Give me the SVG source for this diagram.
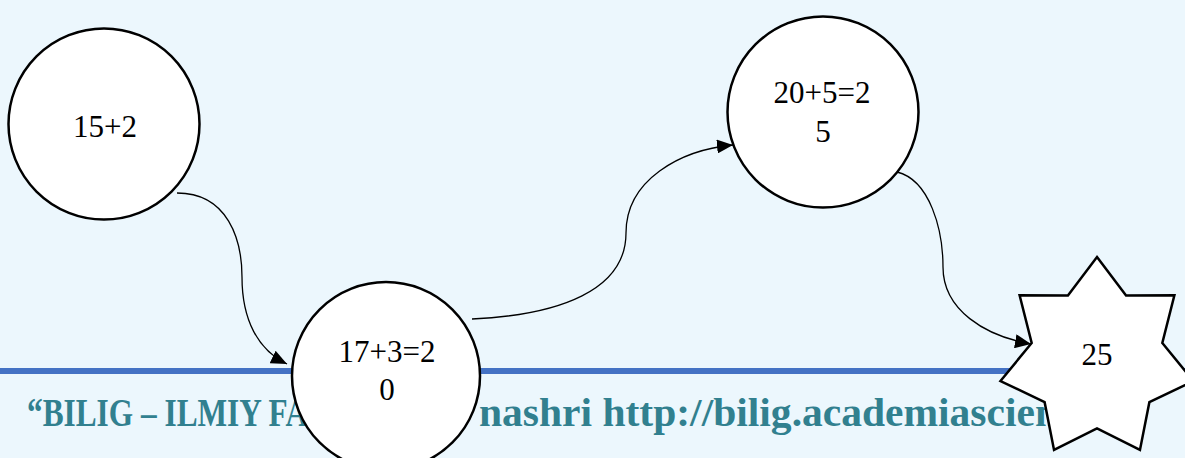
<svg xmlns="http://www.w3.org/2000/svg" width="1185" height="458" viewBox="0 0 1185 458">
<style>
.node{fill:#ffffff;stroke:#000000;stroke-width:2.5}
.lbl{font-family:"Liberation Serif","Times New Roman",serif;font-size:31px;fill:#000000;text-anchor:middle}
.foot{font-family:"Liberation Serif","Times New Roman",serif;font-size:39px;font-weight:bold;fill:#31808F}
.edge{fill:none;stroke:#000000;stroke-width:1.3;marker-end:url(#arr)}
</style>
<defs>
<marker id="arr" markerUnits="userSpaceOnUse" markerWidth="18" markerHeight="14" refX="16" refY="7" orient="auto">
<path d="M0,0 L16,7 L0,14 Z" fill="#000000"/>
</marker>
</defs>
<rect x="0" y="0" width="1185" height="458" fill="#ECF7FD"/>
<rect x="0" y="368" width="1185" height="6" fill="#4472C4"/>
<g id="footer">
<text class="foot" x="27" y="426" textLength="281" lengthAdjust="spacingAndGlyphs">“BILIG – ILMIY FA</text>
<text class="foot" x="479" y="426" textLength="579" lengthAdjust="spacingAndGlyphs">nashri http://bilig.academiascien</text>
</g>
<g id="connectors">
<path class="edge" d="M177,193 C228,193 242,240 242,277 C242,320 258,350 287,364"/>
<path class="edge" d="M472,319 C560,315 626,290 626,233 C626,180 680,150 733,145"/>
<path class="edge" d="M897,172 C930,180 943,230 943,267 C943,310 985,336 1031,344"/>
</g>
<g id="n1">
<circle class="node" cx="104" cy="124" r="95.5"/>
<text class="lbl" x="105" y="137">15+2</text>
</g>
<g id="n2">
<circle class="node" cx="386" cy="376" r="94"/>
<text class="lbl" x="387" y="362">17+3=2</text>
<text class="lbl" x="387" y="400">0</text>
</g>
<g id="n3">
<circle class="node" cx="823" cy="112" r="95.5"/>
<text class="lbl" x="822" y="103">20+5=2</text>
<text class="lbl" x="823" y="142">5</text>
</g>
<g id="n4">
<polygon class="node" points="1097,257 1126.07,295.43 1174.4,295.22 1162.32,342.92 1193.52,381.08 1149.38,402.15 1139.96,449.95 1097,428.5 1054.04,449.95 1044.62,402.15 1000.48,381.08 1031.68,342.92 1019.6,295.22 1067.93,295.43"/>
<text class="lbl" x="1097" y="365">25</text>
</g>
</svg>
